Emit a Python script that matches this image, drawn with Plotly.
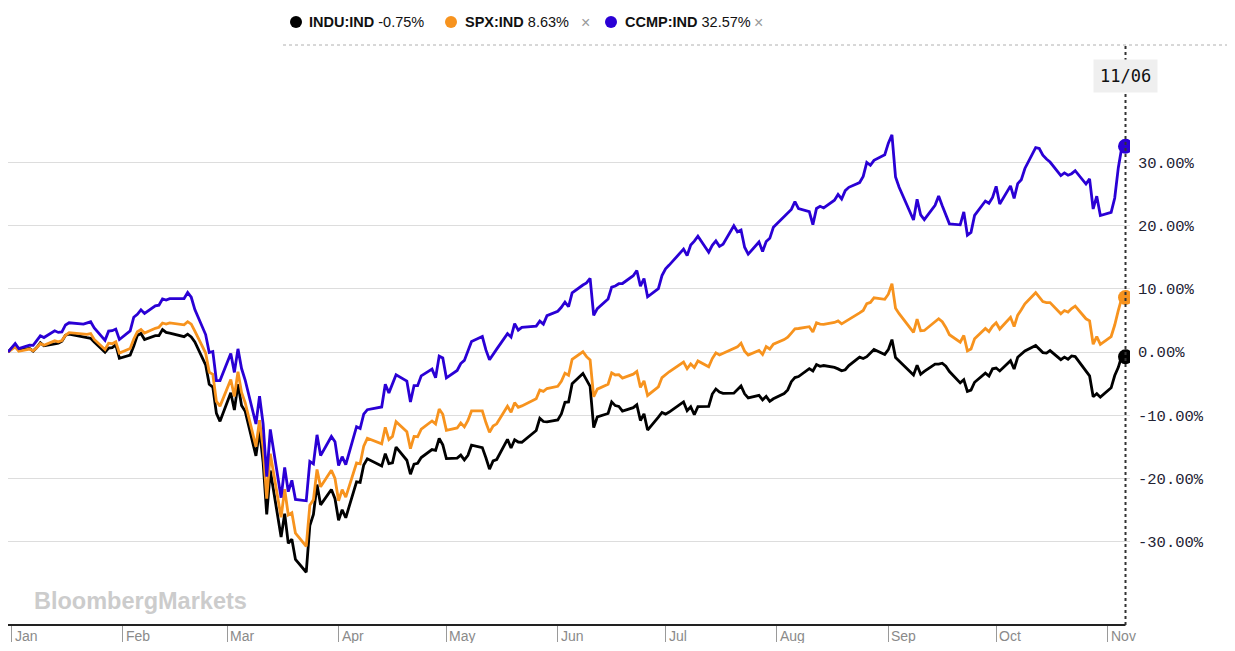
import plotly.graph_objects as go

# ---------------- data ----------------
base_date = "2019-12-31"
month_numbers = [1, 2, 3, 4, 5, 6, 7, 8, 9, 10, 11]
days_jan = [2, 3, 6, 7, 8, 9, 10, 13, 14, 15, 16, 17, 21, 22, 23, 24, 27, 28, 29, 30, 31]
days_feb = [3, 4, 5, 6, 7, 10, 11, 12, 13, 14, 18, 19, 20, 21, 24, 25, 26, 27, 28]
days_mar = [2, 3, 4, 5, 6, 9, 10, 11, 12, 13, 16, 17, 18, 19, 20, 23, 24, 25, 26, 27, 30, 31]
days_apr = [1, 2, 3, 6, 7, 8, 9, 13, 14, 15, 16, 17, 20, 21, 22, 23, 24, 27, 28, 29, 30]
days_may = [1, 4, 5, 6, 7, 8, 11, 12, 13, 14, 15, 18, 19, 20, 21, 22, 26, 27, 28, 29]
days_jun = [1, 2, 3, 4, 5, 8, 9, 10, 11, 12, 15, 16, 17, 18, 19, 22, 23, 24, 25, 26, 29, 30]
days_jul = [1, 2, 6, 7, 8, 9, 10, 13, 14, 15, 16, 17, 20, 21, 22, 23, 24, 27, 28, 29, 30, 31]
days_aug = [3, 4, 5, 6, 7, 10, 11, 12, 13, 14, 17, 18, 19, 20, 21, 24, 25, 26, 27, 28, 31]
days_sep = [1, 2, 3, 4, 8, 9, 10, 11, 14, 15, 16, 17, 18, 21, 22, 23, 24, 25, 28, 29, 30]
days_oct = [1, 2, 5, 6, 7, 8, 9, 12, 13, 14, 15, 16, 19, 20, 21, 22, 23, 26, 27, 28, 29, 30]
days_nov = [2, 3, 4, 5, 6]

indu_base = 28538.44
indu_jan = [28868.80, 28634.88, 28703.38, 28583.68, 28745.09, 28956.90, 28823.77, 28907.05, 28939.67, 29030.22, 29297.64, 29348.10, 29196.04, 29186.27, 29160.09, 28989.73, 28535.80, 28722.85, 28734.45, 28859.44, 28256.03]
indu_feb = [28399.81, 28807.63, 29290.85, 29379.77, 29102.51, 29276.82, 29276.34, 29551.42, 29423.31, 29398.08, 29232.19, 29348.03, 29219.98, 28992.41, 27960.80, 27081.36, 26957.59, 25766.64, 25409.36]
indu_mar = [26703.32, 25917.41, 27090.86, 26121.28, 25864.78, 23851.02, 25018.16, 23553.22, 21200.62, 23185.62, 20188.52, 21237.38, 19898.92, 20087.19, 19173.98, 18591.93, 20704.91, 21200.55, 22552.17, 21636.78, 22327.48, 21917.16]
indu_apr = [20943.51, 21413.44, 21052.53, 22679.99, 22653.86, 23433.57, 23719.37, 23390.77, 23949.76, 23504.35, 23537.68, 24242.49, 23650.44, 23018.88, 23475.82, 23515.26, 23775.27, 24133.78, 24101.55, 24633.86, 24345.72]
indu_may = [23723.69, 23749.76, 23883.09, 23664.64, 23875.89, 24331.32, 24221.99, 23764.78, 23247.97, 23625.34, 23685.42, 24597.37, 24206.86, 24575.90, 24474.12, 24465.16, 24995.11, 25548.27, 25400.64, 25383.11]
indu_jun = [25475.02, 25742.65, 26269.89, 26281.82, 27110.98, 27572.44, 27272.30, 26989.99, 25128.17, 25605.54, 25763.16, 26289.98, 26119.61, 26080.10, 25871.46, 26024.96, 26156.10, 25445.94, 25745.60, 25015.55, 25595.80, 25812.88]
indu_jul = [25734.97, 25827.36, 26287.03, 25890.18, 26067.28, 25706.09, 26075.30, 26085.80, 26642.59, 26870.10, 26734.71, 26671.95, 26680.87, 26840.40, 27005.84, 26652.33, 26469.89, 26584.77, 26379.28, 26539.57, 26313.65, 26428.32]
indu_aug = [26664.40, 26828.47, 27201.52, 27386.98, 27433.48, 27791.44, 27686.91, 27976.84, 27896.72, 27931.02, 27844.91, 27778.07, 27692.88, 27739.73, 27930.33, 28308.46, 28248.44, 28331.92, 28492.27, 28653.87, 28430.05]
indu_sep = [28645.66, 29100.50, 28292.73, 28133.31, 27500.89, 27940.47, 27534.58, 27665.64, 27993.33, 27995.60, 28032.38, 27901.98, 27657.42, 27147.70, 27288.18, 26763.13, 26815.44, 27173.96, 27584.06, 27452.66, 27781.70]
indu_oct = [27816.90, 27682.81, 28148.64, 27772.76, 28303.46, 28425.51, 28586.90, 28837.52, 28679.81, 28514.00, 28494.20, 28606.31, 28195.42, 28308.79, 28210.82, 28363.66, 28335.57, 27685.38, 27463.19, 26519.95, 26659.11, 26501.60]
indu_nov = [26925.05, 27480.03, 27847.66, 28390.18, 28323.40]

spx_base = 3230.78
spx_jan = [3257.85, 3234.85, 3246.28, 3237.18, 3253.05, 3274.70, 3265.35, 3288.13, 3283.15, 3289.29, 3316.81, 3329.62, 3320.79, 3321.75, 3325.54, 3295.47, 3243.63, 3276.24, 3273.40, 3283.66, 3225.52]
spx_feb = [3248.92, 3297.59, 3334.69, 3345.78, 3327.71, 3352.09, 3357.75, 3379.45, 3373.94, 3380.16, 3370.29, 3386.15, 3373.23, 3337.75, 3225.89, 3128.21, 3116.39, 2978.76, 2954.22]
spx_mar = [3090.23, 3003.37, 3130.12, 3023.94, 2972.37, 2746.56, 2882.23, 2741.38, 2480.64, 2711.02, 2386.13, 2529.19, 2398.10, 2409.39, 2304.92, 2237.40, 2447.33, 2475.56, 2630.07, 2541.47, 2626.65, 2584.59]
spx_apr = [2470.50, 2526.90, 2488.65, 2663.68, 2659.41, 2749.98, 2789.82, 2761.63, 2846.06, 2783.36, 2799.55, 2874.56, 2823.16, 2736.56, 2799.31, 2797.80, 2836.74, 2878.48, 2863.39, 2939.51, 2912.43]
spx_may = [2830.71, 2842.74, 2868.44, 2848.42, 2881.19, 2929.80, 2930.19, 2870.12, 2820.00, 2852.50, 2863.70, 2953.91, 2922.94, 2971.61, 2948.51, 2955.45, 2991.77, 3036.13, 3029.73, 3044.31]
spx_jun = [3055.73, 3080.82, 3122.87, 3112.35, 3193.93, 3232.39, 3207.18, 3190.14, 3002.10, 3041.31, 3066.59, 3124.74, 3113.49, 3115.34, 3097.74, 3117.86, 3131.29, 3050.33, 3083.76, 3009.05, 3053.24, 3100.29]
spx_jul = [3115.86, 3130.01, 3179.72, 3145.32, 3169.94, 3152.05, 3185.04, 3155.22, 3197.52, 3226.56, 3215.57, 3224.73, 3251.84, 3257.30, 3276.02, 3235.66, 3215.63, 3239.41, 3218.44, 3258.44, 3246.22, 3271.12]
spx_aug = [3294.61, 3306.51, 3327.77, 3349.16, 3351.28, 3360.47, 3333.69, 3380.35, 3373.43, 3372.85, 3381.99, 3389.78, 3374.85, 3385.51, 3397.16, 3431.28, 3443.62, 3478.73, 3484.55, 3508.01, 3500.31]
spx_sep = [3526.65, 3580.84, 3455.06, 3426.96, 3331.84, 3398.96, 3339.19, 3340.97, 3383.54, 3401.20, 3385.49, 3357.01, 3319.47, 3281.06, 3315.57, 3236.92, 3246.59, 3298.46, 3351.60, 3335.47, 3363.00]
spx_oct = [3380.80, 3348.42, 3408.60, 3360.97, 3419.44, 3446.83, 3477.14, 3534.22, 3511.93, 3488.67, 3483.34, 3483.81, 3426.92, 3443.12, 3435.56, 3453.49, 3465.39, 3400.97, 3390.68, 3271.03, 3310.11, 3269.96]
spx_nov = [3310.24, 3369.16, 3443.44, 3510.45, 3509.44]

ccmp_base = 8972.60
ccmp_jan = [9092.19, 9020.77, 9071.47, 9068.58, 9129.24, 9203.43, 9178.86, 9273.93, 9251.33, 9258.70, 9357.13, 9388.94, 9370.81, 9383.77, 9402.48, 9314.91, 9139.31, 9269.68, 9275.16, 9298.93, 9150.94]
ccmp_feb = [9273.40, 9467.97, 9508.68, 9572.15, 9520.51, 9628.39, 9638.94, 9725.96, 9711.97, 9731.18, 9732.74, 9817.18, 9750.96, 9576.59, 9221.28, 8965.61, 8980.78, 8566.48, 8567.37]
ccmp_mar = [8952.17, 8684.09, 9018.09, 8738.60, 8575.62, 7950.68, 8344.25, 7952.05, 7201.80, 7874.88, 6904.59, 7334.78, 6989.84, 7150.58, 6879.52, 6860.67, 7417.86, 7384.30, 7797.54, 7502.38, 7774.15, 7700.10]
ccmp_apr = [7360.58, 7487.31, 7373.08, 7913.24, 7887.26, 8090.90, 8153.58, 8192.42, 8515.74, 8393.18, 8532.36, 8650.14, 8560.73, 8263.23, 8495.38, 8494.75, 8634.52, 8730.16, 8607.73, 8914.71, 8889.55]
ccmp_may = [8604.95, 8710.71, 8809.12, 8854.39, 8979.66, 9121.32, 9192.34, 9002.55, 8863.17, 8943.72, 9014.56, 9234.83, 9185.10, 9375.78, 9284.88, 9324.59, 9340.22, 9412.36, 9368.99, 9489.87]
ccmp_jun = [9552.05, 9608.38, 9682.91, 9615.81, 9814.08, 9924.75, 9953.75, 10020.35, 9492.73, 9588.81, 9726.02, 9895.87, 9910.53, 9943.05, 9946.12, 10056.48, 10131.37, 9909.17, 10017.00, 9757.22, 9874.15, 10058.77]
ccmp_jul = [10154.63, 10207.63, 10433.65, 10343.89, 10492.50, 10547.75, 10617.44, 10390.84, 10488.58, 10550.49, 10473.83, 10503.19, 10767.09, 10680.36, 10706.13, 10461.42, 10363.18, 10536.27, 10402.09, 10542.94, 10587.81, 10745.27]
ccmp_aug = [10902.80, 10941.17, 10998.40, 11108.07, 11010.98, 10968.36, 10782.82, 11012.24, 11042.50, 11019.30, 11129.73, 11210.84, 11146.46, 11264.95, 11311.80, 11379.72, 11466.47, 11665.06, 11625.34, 11695.63, 11775.46]
ccmp_sep = [11939.67, 12056.44, 11458.10, 11313.13, 10847.69, 11141.56, 10919.59, 10853.55, 11056.65, 11190.32, 11050.47, 10910.28, 10793.28, 10778.80, 10963.64, 10632.99, 10672.27, 10913.56, 11117.53, 11085.25, 11167.51]
ccmp_oct = [11326.51, 11075.02, 11332.49, 11154.60, 11364.60, 11420.98, 11579.94, 11876.26, 11863.90, 11768.73, 11713.87, 11671.56, 11478.88, 11516.49, 11484.69, 11506.01, 11548.28, 11358.94, 11431.35, 11004.87, 11185.59, 10911.59]
ccmp_nov = [10957.61, 11160.57, 11590.78, 11890.93, 11895.23]

series_names = ["INDU:IND", "SPX:IND", "CCMP:IND"]
series_changes = ["-0.75%", "8.63%", "32.57%"]
series_colors = ["#000000", "#f7931e", "#2a00d5"]

month_ticks = ["2020-01-01", "2020-02-01", "2020-03-01", "2020-04-01", "2020-05-01", "2020-06-01",
               "2020-07-01", "2020-08-01", "2020-09-01", "2020-10-01", "2020-11-01"]
month_labels = ["Jan", "Feb", "Mar", "Apr", "May", "Jun", "Jul", "Aug", "Sep", "Oct", "Nov"]
y_ticks = [-30, -20, -10, 0, 10, 20, 30]
y_tick_labels = ["-30.00%", "-20.00%", "-10.00%", "0.00%", "10.00%", "20.00%", "30.00%"]
last_label = "11/06"

# ---------------- assemble ----------------
all_days = [days_jan, days_feb, days_mar, days_apr, days_may, days_jun,
            days_jul, days_aug, days_sep, days_oct, days_nov]
dates = [base_date]
for m, dl in zip(month_numbers, all_days):
    for d in dl:
        dates.append(f"2020-{m:02d}-{d:02d}")


def ytd(base, months):
    out = [0.0]
    for arr in months:
        out += [(c / base - 1.0) * 100.0 for c in arr]
    return out


indu = ytd(indu_base, [indu_jan, indu_feb, indu_mar, indu_apr, indu_may, indu_jun,
                       indu_jul, indu_aug, indu_sep, indu_oct, indu_nov])
spx = ytd(spx_base, [spx_jan, spx_feb, spx_mar, spx_apr, spx_may, spx_jun,
                     spx_jul, spx_aug, spx_sep, spx_oct, spx_nov])
ccmp = ytd(ccmp_base, [ccmp_jan, ccmp_feb, ccmp_mar, ccmp_apr, ccmp_may, ccmp_jun,
                       ccmp_jul, ccmp_aug, ccmp_sep, ccmp_oct, ccmp_nov])
series_values = [indu, spx, ccmp]

# ---------------- figure ----------------
# page body has an 8px margin, so the figure is sized to fit inside it
OFF = 8
W, H = 1235 - 2 * OFF, 651 - 2 * OFF
ML, MT = 0, 45 - OFF
PLOT_RIGHT_REF, PLOT_BOTTOM_REF = 1130, 625
MR = W - (PLOT_RIGHT_REF - OFF)
MB = H - (PLOT_BOTTOM_REF - OFF)
PW = W - ML - MR
PH = H - MT - MB


def px_x(ref):
    return (ref - OFF - ML) / PW


def px_y(ref):
    return (PLOT_BOTTOM_REF - ref) / PH


fig = go.Figure()
for name, vals, col in zip(series_names, series_values, series_colors):
    fig.add_trace(go.Scatter(x=dates, y=vals, mode="lines", name=name,
                             line=dict(color=col, width=2.8), hoverinfo="skip"))
for name, vals, col in zip(series_names, series_values, series_colors):
    fig.add_trace(go.Scatter(x=[dates[-1]], y=[vals[-1]], mode="markers",
                             marker=dict(color=col, size=15), hoverinfo="skip",
                             showlegend=False))

shapes = [
    dict(type="line", xref="x", yref="paper", x0=dates[0], x1=dates[-1], y0=0, y1=0,
         line=dict(color="#222222", width=2)),
    dict(type="line", xref="x", yref="paper", x0=dates[-1], x1=dates[-1], y0=0, y1=1,
         line=dict(color="#333333", width=2, dash="dot")),
    dict(type="line", xref="paper", yref="paper", x0=px_x(283), x1=px_x(1227), y0=1, y1=1,
         line=dict(color="#b0b0b0", width=1, dash="dot")),
]

annotations = []
dot_px = [296, 451, 611]
text_px = [307, 463, 623]
close_px = [None, 579, 752]
leg_y = px_y(22)
for i in range(3):
    shapes.append(dict(type="circle", xref="paper", yref="paper", xsizemode="pixel",
                       ysizemode="pixel", xanchor=px_x(dot_px[i]), yanchor=leg_y,
                       x0=-6, x1=6, y0=-6, y1=6, fillcolor=series_colors[i],
                       line=dict(width=0)))
    annotations.append(dict(text="<b>" + series_names[i] + "</b> " + series_changes[i],
                            xref="paper", yref="paper",
                            x=px_x(text_px[i]), y=leg_y, xanchor="left", yanchor="middle",
                            showarrow=False, font=dict(family="Liberation Sans, Arial", size=14.5,
                                                       color="#111111")))
    if close_px[i] is not None:
        annotations.append(dict(text="×", xref="paper", yref="paper",
                                x=px_x(close_px[i]), y=leg_y, xanchor="left", yanchor="middle",
                                showarrow=False, font=dict(family="Liberation Sans, Arial",
                                                           size=16, color="#9a9a9a")))

for d, lab in zip(month_ticks, month_labels):
    annotations.append(dict(text=lab, x=d, xref="x", y=0, yref="paper", xanchor="left",
                            yanchor="top", xshift=1, yshift=-1, showarrow=False,
                            font=dict(family="Liberation Sans Narrow, Arial Narrow, Liberation Sans",
                                      size=14, color="#8a8a8a")))

annotations.append(dict(text="<b>BloombergMarkets</b>", xref="paper", yref="paper",
                        x=px_x(32), y=px_y(601), xanchor="left", yanchor="middle",
                        showarrow=False,
                        font=dict(family="Liberation Sans, Arial", size=23.5, color="#cccccc")))

annotations.append(dict(text=last_label, x=dates[-1], xref="x", y=px_y(76), yref="paper",
                        xanchor="center", yanchor="middle", showarrow=False,
                        bgcolor="#efefef", borderpad=6,
                        font=dict(family="DejaVu Sans Mono, monospace", size=17, color="#111111")))

fig.update_layout(
    width=W, height=H,
    margin=dict(l=ML, r=MR, t=MT, b=MB, pad=0),
    paper_bgcolor="white", plot_bgcolor="white",
    showlegend=False, hovermode=False,
    shapes=shapes, annotations=annotations,
    xaxis=dict(type="date", range=["2019-12-31 00:00", "2020-11-07 06:00"],
               showgrid=False, zeroline=False, showline=False,
               tickvals=month_ticks, showticklabels=False,
               ticks="outside", ticklen=16, tickwidth=1, tickcolor="#9a9a9a"),
    yaxis=dict(side="right", range=[-43.2, 48.6], tickvals=y_ticks, ticktext=y_tick_labels,
               showgrid=True, gridcolor="#dddddd",
               gridwidth=1, zeroline=False, showline=False, ticks="",
               ticklabelstandoff=7,
               tickfont=dict(family="Liberation Mono, DejaVu Sans Mono, monospace",
                             size=15.5, color="#222233")),
)

fig.write_html("out.html", config={"displayModeBar": False})
